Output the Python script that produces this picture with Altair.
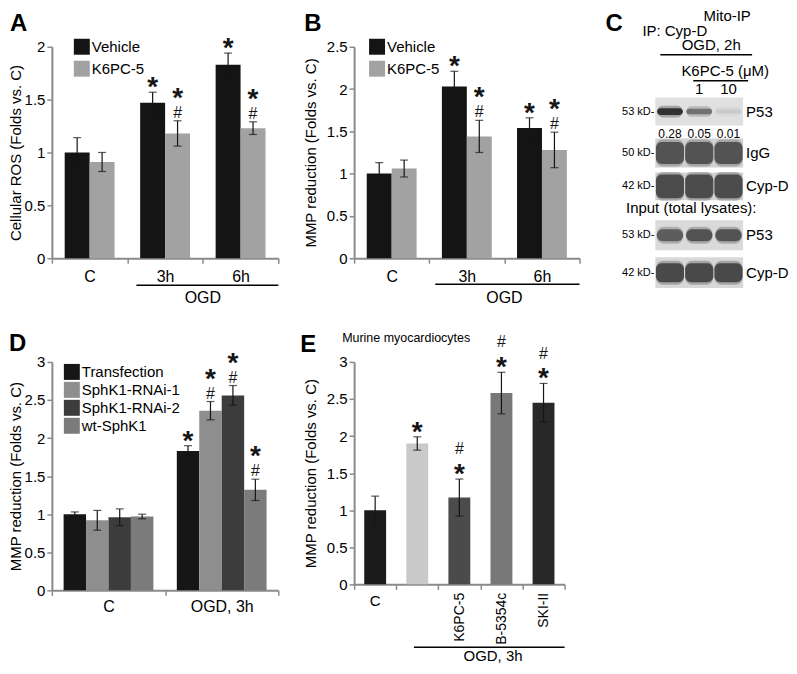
import altair as alt
import pandas as pd

# ---------------- Panel A : Cellular ROS ----------------
a_groups = ["C", "3h", "6h"]
a_series = ["Vehicle", "K6PC-5"]
a_vehicle = [1.00, 1.47, 1.83]
a_vehicle_err = [0.14, 0.10, 0.11]
a_vehicle_sig = ["", "*", "*"]
a_k6pc5 = [0.91, 1.18, 1.23]
a_k6pc5_err = [0.09, 0.12, 0.06]
a_k6pc5_sig = ["", "#*", "#*"]
a_colors = ["#141414", "#a2a2a2"]

# ---------------- Panel B : MMP reduction ----------------
b_groups = ["C", "3h", "6h"]
b_series = ["Vehicle", "K6PC-5"]
b_vehicle = [1.00, 2.03, 1.54]
b_vehicle_err = [0.13, 0.18, 0.12]
b_vehicle_sig = ["", "*", "*"]
b_k6pc5 = [1.06, 1.44, 1.28]
b_k6pc5_err = [0.10, 0.19, 0.21]
b_k6pc5_sig = ["", "#*", "#*"]
b_colors = ["#141414", "#a2a2a2"]

# ---------------- Panel C : Mito-IP blot ----------------
c_lane_labels = ["", "1", "10"]
c_rows = ["P53", "IgG", "Cyp-D", "P53", "Cyp-D"]
c_markers = ["53 kD-", "50 kD-", "42 kD-", "53 kD-", "42 kD-"]
c_p53_ip = [0.92, 0.55, 0.08]
c_igg = [0.72, 0.72, 0.72]
c_cypd_ip = [0.76, 0.76, 0.76]
c_p53_input = [0.66, 0.72, 0.72]
c_cypd_input = [0.78, 0.78, 0.78]
c_ratio = ["0.28", "0.05", "0.01"]

# ---------------- Panel D : SphK1 ----------------
d_groups = ["C", "OGD, 3h"]
d_series = ["Transfection", "SphK1-RNAi-1", "SphK1-RNAi-2", "wt-SphK1"]
d_transfection = [1.00, 1.83]
d_transfection_err = [0.03, 0.07]
d_transfection_sig = ["", "*"]
d_rnai1 = [0.92, 2.36]
d_rnai1_err = [0.13, 0.12]
d_rnai1_sig = ["", "#*"]
d_rnai2 = [0.96, 2.56]
d_rnai2_err = [0.11, 0.13]
d_rnai2_sig = ["", "#*"]
d_wt = [0.97, 1.32]
d_wt_err = [0.03, 0.14]
d_wt_sig = ["", "#*"]
d_colors = ["#161616", "#8e8e8e", "#3c3c3c", "#7b7b7b"]

# ---------------- Panel E : Murine myocardiocytes ----------------
e_groups = ["C", "OGD", "K6PC-5", "B-5354c", "SKI-II"]
e_values = [1.00, 1.90, 1.17, 2.58, 2.45]
e_err = [0.19, 0.09, 0.25, 0.28, 0.26]
e_sig = ["", "*", "*#", "*#", "*#"]
e_colors = ["#1b1b1b", "#c9c9c9", "#4b4b4b", "#787878", "#282828"]

FONT = "Liberation Sans"
GRAY = "#8a8a8a"
INK = "#151515"

SIG_STYLE = {
    "star0": ("*", 28, "bold", 4),
    "hash0": ("#", 16, "normal", -3),
    "star1": ("*", 28, "bold", -14),
    "hash1": ("#", 16, "normal", -25),
}


def bars_df(groups, series_list, bar_frac):
    """Dodged bar table: positions are group index + series slot, in group units."""
    n = len(series_list)
    pad = (1 - n * bar_frac) / 2
    rows = []
    for si, (name, vals, errs, _) in enumerate(series_list):
        for gi, (g, v, e) in enumerate(zip(groups, vals, errs)):
            x0 = gi + pad + si * bar_frac
            rows.append({"group": g, "series": name, "value": v, "lo": v - e, "hi": v + e,
                         "x0": x0, "x1": x0 + bar_frac, "xm": x0 + bar_frac / 2})
    return pd.DataFrame(rows)


def sig_rows(table, series_list, groups):
    rows = []
    for name, vals, errs, sigs in series_list:
        for g, s in zip(groups, sigs):
            rec = table[(table.series == name) & (table.group == g)].iloc[0]
            for lvl, ch in enumerate(s):
                kind = ("star" if ch == "*" else "hash") + str(lvl)
                rows.append({"xm": rec.xm, "top": rec.hi, "kind": kind})
    return pd.DataFrame(rows)


def label(text, x, y, size=15, align="center", weight="normal", baseline="middle"):
    return alt.Chart(pd.DataFrame({"t": [text]})).mark_text(
        align=align, baseline=baseline, fontSize=size, fontWeight=weight, color="black"
    ).encode(text="t:N", x=alt.value(x), y=alt.value(y))


def hline(x1, x2, y, w=1.5):
    return alt.Chart(pd.DataFrame({"t": [0]})).mark_rule(color="black", strokeWidth=w).encode(
        x=alt.value(x1), x2=alt.value(x2), y=alt.value(y))


def letter(ch, x, y):
    return label(ch, x, y, size=24, align="left", weight="bold", baseline="top")


def y_axis(title, ymax, title_x):
    vals = [i * 0.5 for i in range(int(round(ymax / 0.5)) + 1)]
    return alt.Axis(title=title, values=vals, format="~g", grid=False,
                    titleX=title_x, titleBaseline="middle", titleAngle=270,
                    titleFontSize=15, titleFontWeight="normal", titleColor="black",
                    labelFontSize=15, labelPadding=2, labelColor="black")


def grouped_panel(groups, series, colors, series_list, width, bar_px, ymax, ytitle,
                  title_x, legend_x, legend_y, row_pad, x_pad=5):
    group_w = width / len(groups)
    table = bars_df(groups, series_list, bar_px / group_w)
    sigs = sig_rows(table, series_list, groups)
    yscale = alt.Scale(domain=[0, ymax], nice=False, zero=True)
    yax = y_axis(ytitle, ymax, title_x)
    qx = alt.Scale(domain=[0, len(groups)], nice=False, zero=False)
    base = alt.Chart(table)
    bars = base.mark_bar().encode(
        x=alt.X("x0:Q", scale=qx, axis=None), x2="x1:Q",
        y=alt.Y("value:Q", scale=yscale, axis=yax), y2=alt.datum(0),
        color=alt.Color("series:N", scale=alt.Scale(domain=series, range=colors),
                        legend=alt.Legend(title=None, orient="none", legendX=legend_x, legendY=legend_y,
                                          symbolType="square", symbolSize=256, symbolStrokeWidth=0,
                                          labelFontSize=15, labelColor="black", rowPadding=row_pad,
                                          labelOffset=2, padding=0)))
    # category axis (ticks between groups, labels centred)
    cat_axis = base.mark_tick(opacity=0).encode(
        x=alt.X("group:N", scale=alt.Scale(type="band", domain=groups, paddingInner=0, paddingOuter=0),
                axis=alt.Axis(title=None, orient="bottom", labelAngle=0, tickBand="extent",
                              labelFontSize=16, labelPadding=x_pad, labelColor="black", grid=False)),
        y=alt.Y("value:Q", scale=yscale, axis=yax))
    stem = base.mark_rule(color=INK, strokeWidth=1.2).encode(
        x=alt.X("xm:Q", scale=qx, axis=None),
        y=alt.Y("lo:Q", scale=yscale, axis=yax), y2="hi:Q")
    cap_hi = base.mark_tick(color=INK, size=8, thickness=1.2, orient="horizontal").encode(
        x=alt.X("xm:Q", scale=qx, axis=None), y=alt.Y("hi:Q", scale=yscale, axis=yax))
    cap_lo = base.mark_tick(color=INK, size=8, thickness=1.2, orient="horizontal").encode(
        x=alt.X("xm:Q", scale=qx, axis=None), y=alt.Y("lo:Q", scale=yscale, axis=yax))
    layers = [bars, cat_axis, stem, cap_hi, cap_lo]
    for kind, (sym, fs, fw, dy) in SIG_STYLE.items():
        layers.append(alt.Chart(sigs).transform_filter(alt.datum.kind == kind).mark_text(
            text=sym, fontSize=fs, fontWeight=fw, dy=dy, baseline="alphabetic", color=INK
        ).encode(x=alt.X("xm:Q", scale=qx, axis=None), y=alt.Y("top:Q", scale=yscale, axis=yax)))
    return layers


# ---------------- build A ----------------
A_W, A_H = 227, 212
a_layers = grouped_panel(
    a_groups, a_series, a_colors,
    [("Vehicle", a_vehicle, a_vehicle_err, a_vehicle_sig),
     ("K6PC-5", a_k6pc5, a_k6pc5_err, a_k6pc5_sig)],
    A_W, 25, 2.0, "Cellular ROS (Folds vs. C)", -36, 22, -8, 6)
a_layers += [letter("A", -42, -35),
             hline(A_W * 1.12 / 3, A_W, A_H + 27),
             label("OGD", A_W * 2 / 3, A_H + 40, size=16)]
chart_a = alt.layer(*a_layers).resolve_scale(x="independent").properties(width=A_W, height=A_H)

# ---------------- build B ----------------
B_W, B_H = 226, 212
b_layers = grouped_panel(
    b_groups, b_series, b_colors,
    [("Vehicle", b_vehicle, b_vehicle_err, b_vehicle_sig),
     ("K6PC-5", b_k6pc5, b_k6pc5_err, b_k6pc5_sig)],
    B_W, 25, 2.5, "MMP reduction (Folds vs. C)", -44, 15, -8, 6)
b_layers += [letter("B", -50, -35),
             hline(B_W * 1.08 / 3, B_W, B_H + 26),
             label("OGD", B_W * 2 / 3, B_H + 40, size=16)]
chart_b = alt.layer(*b_layers).resolve_scale(x="independent").properties(width=B_W, height=B_H)

# ---------------- build C (blot) ----------------
C_W, C_H = 88, 242
ROW_TOP = [51, 92, 126, 174, 211]
ROW_BOTTOM = [79, 121, 154, 204, 242]
BAND_H = [7, 22, 24, 12, 19]
BAND_PAD = [0.06, 0.02, 0.02, 0.05, 0.02]
ROW_FILL = ["#e0e0e0", "#d2d2d2", "#d4d4d4", "#dadada", "#d8d8d8"]
c_matrix = [c_p53_ip, c_igg, c_cypd_ip, c_p53_input, c_cypd_input]

box_rows, band_rows, row_lab = [], [], []
for r, name in enumerate(c_rows):
    center = (ROW_TOP[r] + ROW_BOTTOM[r]) / 2
    box_rows.append({"x0": 0, "x1": 3, "y0": ROW_TOP[r], "y1": ROW_BOTTOM[r], "fill": ROW_FILL[r]})
    row_lab.append({"name": name, "marker": c_markers[r], "center": center})
    for i, inten in enumerate(c_matrix[r]):
        hh = BAND_H[r] * (0.55 + 0.45 * inten) if r == 0 else BAND_H[r]
        band_rows.append({"x0": i + BAND_PAD[r], "x1": i + 1 - BAND_PAD[r],
                          "y0": center - hh / 2, "y1": center + hh / 2,
                          "h0": center - hh / 2 - 2.5, "h1": center + hh / 2 + 2.5,
                          "intensity": inten})
box_df = pd.DataFrame(box_rows)
band_df = pd.DataFrame(band_rows)
rowlab_df = pd.DataFrame(row_lab)
lane_df = pd.DataFrame({"mid": [0.5, 1.5, 2.5], "lane": c_lane_labels, "ratio": c_ratio})

lane_sc = alt.Scale(domain=[0, 3], nice=False, zero=False)
pos_sc = alt.Scale(domain=[0, C_H], nice=False, zero=False, reverse=True)
gray_sc = alt.Scale(domain=[0, 1], range=["#dadada", "#262626"])

c_boxes = alt.Chart(box_df).mark_rect().encode(
    x=alt.X("x0:Q", scale=lane_sc, axis=None), x2="x1:Q",
    y=alt.Y("y0:Q", scale=pos_sc, axis=None), y2="y1:Q",
    fill=alt.Fill("fill:N", scale=None))
c_halo = alt.Chart(band_df).mark_rect(cornerRadius=7, opacity=0.35).encode(
    x=alt.X("x0:Q", scale=lane_sc, axis=None), x2="x1:Q",
    y=alt.Y("h0:Q", scale=pos_sc, axis=None), y2="h1:Q",
    color=alt.Color("intensity:Q", scale=gray_sc, legend=None))
c_bands = alt.Chart(band_df).mark_rect(cornerRadius=6).encode(
    x=alt.X("x0:Q", scale=lane_sc, axis=None), x2="x1:Q",
    y=alt.Y("y0:Q", scale=pos_sc, axis=None), y2="y1:Q",
    color=alt.Color("intensity:Q", scale=gray_sc, legend=None))
c_right = alt.Chart(rowlab_df).mark_text(align="left", baseline="middle", fontSize=15, color="black").encode(
    text="name:N", x=alt.value(C_W + 3), y=alt.Y("center:Q", scale=pos_sc, axis=None))
c_left = alt.Chart(rowlab_df).mark_text(align="right", baseline="middle", fontSize=11, color="black").encode(
    text="marker:N", x=alt.value(-1), y=alt.Y("center:Q", scale=pos_sc, axis=None))
c_ratios = alt.Chart(lane_df).mark_text(baseline="middle", fontSize=12, color="black").encode(
    text="ratio:N", x=alt.X("mid:Q", scale=lane_sc, axis=None), y=alt.value(87))
c_lanes = alt.Chart(lane_df).mark_text(baseline="middle", fontSize=15, color="black").encode(
    text="lane:N", x=alt.X("mid:Q", scale=lane_sc, axis=None), y=alt.value(42))
c_layers = [c_boxes, c_halo, c_bands, c_right, c_left, c_ratios, c_lanes,
            letter("C", -50, -35),
            label("Mito-IP", 72, -31),
            label("IP: Cyp-D", -13, -16, align="left"),
            label("OGD, 2h", 56, -2),
            hline(5, 97, 8),
            label("K6PC-5 (μM)", 70, 24),
            hline(38, 93, 34),
            label("Input (total lysates):", 36, 162)]
chart_c = alt.layer(*c_layers).properties(width=C_W, height=C_H)

# ---------------- build D ----------------
D_W, D_H = 227, 229
d_layers = grouped_panel(
    d_groups, d_series, d_colors,
    [("Transfection", d_transfection, d_transfection_err, d_transfection_sig),
     ("SphK1-RNAi-1", d_rnai1, d_rnai1_err, d_rnai1_sig),
     ("SphK1-RNAi-2", d_rnai2, d_rnai2_err, d_rnai2_sig),
     ("wt-SphK1", d_wt, d_wt_err, d_wt_sig)],
    D_W, 22.5, 3.0, "MMP reduction (Folds vs. C)", -36, 12, 2, 2, x_pad=3)
d_layers += [letter("D", -43, -30)]
chart_d = alt.layer(*d_layers).resolve_scale(x="independent").properties(width=D_W, height=D_H)

# ---------------- build E ----------------
E_W, E_H = 211, 223
e_table = pd.DataFrame({"group": e_groups, "value": e_values,
                        "lo": [v - e for v, e in zip(e_values, e_err)],
                        "hi": [v + e for v, e in zip(e_values, e_err)]})
e_sig_rows = []
for g, v, e, s in zip(e_groups, e_values, e_err, e_sig):
    for lvl, ch in enumerate(s):
        e_sig_rows.append({"group": g, "top": v + e, "kind": ("star" if ch == "*" else "hash") + str(lvl)})
e_sigs = pd.DataFrame(e_sig_rows)

e_yscale = alt.Scale(domain=[0, 3], nice=False, zero=True)
e_yax = y_axis("MMP reduction (Folds vs. C)", 3.0, -44)
e_x = alt.X("group:N", scale=alt.Scale(type="band", domain=e_groups, paddingInner=0, paddingOuter=0),
            axis=alt.Axis(title=None, labelAngle=270, labelAlign="right", labelBaseline="middle",
                          tickBand="extent", labelFontSize=14, labelPadding=3, labelColor="black",
                          grid=False,
                          labelExpr="datum.value == 'C' || datum.value == 'OGD' ? '' : datum.label"))
e_base = alt.Chart(e_table)
e_layers = [
    e_base.mark_bar(width=alt.RelativeBandSize(0.52)).encode(
        x=e_x, y=alt.Y("value:Q", scale=e_yscale, axis=e_yax),
        color=alt.Color("group:N", scale=alt.Scale(domain=e_groups, range=e_colors), legend=None)),
    e_base.mark_rule(color=INK, strokeWidth=1.2).encode(
        x=e_x, y=alt.Y("lo:Q", scale=e_yscale, axis=e_yax), y2="hi:Q"),
    e_base.mark_tick(color=INK, size=8, thickness=1.2).encode(
        x=e_x, y=alt.Y("hi:Q", scale=e_yscale, axis=e_yax)),
    e_base.mark_tick(color=INK, size=8, thickness=1.2).encode(
        x=e_x, y=alt.Y("lo:Q", scale=e_yscale, axis=e_yax)),
]
for kind, (sym, fs, fw, dy) in SIG_STYLE.items():
    e_layers.append(alt.Chart(e_sigs).transform_filter(alt.datum.kind == kind).mark_text(
        text=sym, fontSize=fs, fontWeight=fw, dy=dy, baseline="alphabetic", color=INK
    ).encode(x=e_x, y=alt.Y("top:Q", scale=e_yscale, axis=e_yax)))
e_layers += [letter("E", -54, -29),
             label("Murine myocardiocytes", -12, -24, size=12.5, align="left"),
             label("C", E_W * 0.5 / 5, E_H + 10, size=15, baseline="top"),
             hline(E_W * 1.42 / 5, E_W, E_H + 63),
             label("OGD, 3h", E_W * 3.3 / 5, E_H + 72, size=15)]
chart_e = alt.layer(*e_layers).properties(width=E_W, height=E_H)

chart = alt.ConcatChart(
    concat=[chart_a, chart_b, chart_c, chart_d, chart_e],
    columns=3,
    spacing={"row": 74, "column": 76},
    bounds="flush",
    align="each",
    padding=0,
).resolve_scale(
    x="independent", y="independent", color="independent"
).configure(
    font=FONT
).configure_view(
    strokeWidth=0
).configure_axis(
    domainColor=GRAY, domainWidth=2, tickColor=GRAY, tickWidth=1.5, tickSize=5,
    labelFont=FONT, titleFont=FONT
)

chart.save("out.html", embed_options={"renderer": "svg", "actions": False})
